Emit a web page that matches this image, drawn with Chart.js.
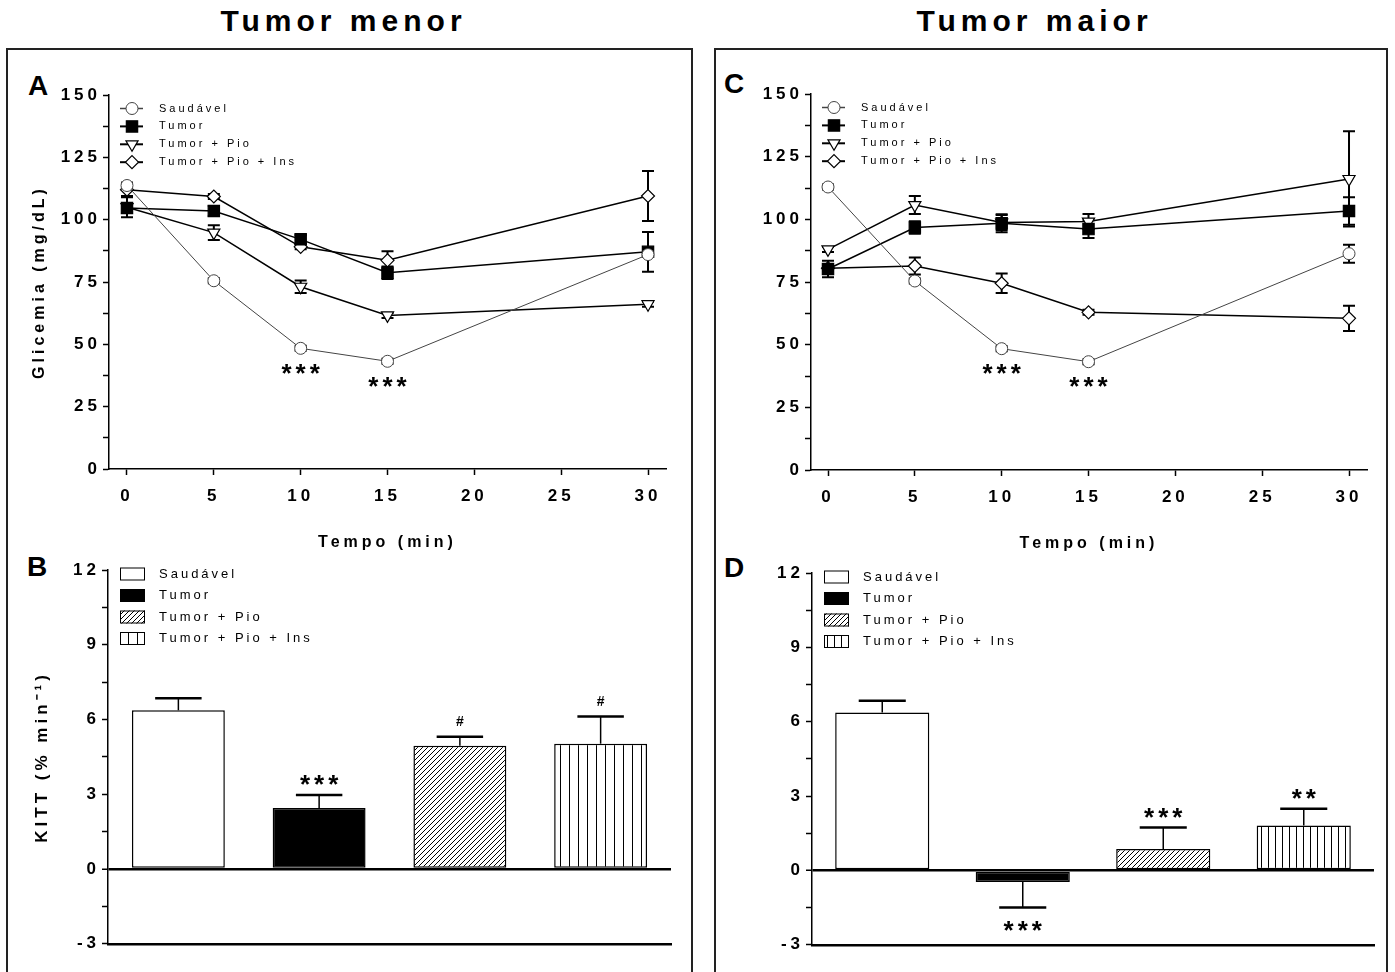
<!DOCTYPE html>
<html>
<head>
<meta charset="utf-8">
<script src="https://cdn.jsdelivr.net/npm/chart.js@4/dist/chart.umd.min.js"></script>
<style>
  body { margin: 0; background: #fff; overflow: hidden; }
  #fig { position: relative; width: 1395px; height: 972px; overflow: hidden; background: #fff;
         font-family: 'Liberation Sans', Arial, Helvetica, sans-serif; color: #000; }
  .painel { position: absolute; top: 48px; height: 1000px; border: 2px solid #222; box-sizing: border-box; }
  .titulo { position: absolute; top: 6px; width: 687px; text-align: center; font-weight: bold;
            font-size: 30px; line-height: 30px; letter-spacing: 5px; }
  .letra { position: absolute; font-weight: bold; font-size: 28px; line-height: 28px; }
  canvas { position: absolute; }
</style>
</head>
<body>
<div id="fig">
  <div class="painel" style="left:6px; width:687px;"></div>
  <div class="painel" style="left:714px; width:674px;"></div>
  <div class="titulo" style="left:0px;">Tumor menor</div>
  <div class="titulo" style="left:691px;">Tumor maior</div>
  <div class="letra" style="left:28px; top:72px;">A</div>
  <div class="letra" style="left:27px; top:553px;">B</div>
  <div class="letra" style="left:724px; top:70px;">C</div>
  <div class="letra" style="left:724px; top:554px;">D</div>
  <canvas id="gA" width="660" height="496" style="left:20px; top:60px;"></canvas>
  <canvas id="gB" width="661" height="406" style="left:20px; top:550px;"></canvas>
  <canvas id="gC" width="659" height="497" style="left:722px; top:60px;"></canvas>
  <canvas id="gD" width="662" height="404" style="left:722px; top:553px;"></canvas>
</div>
<script>
// grupos e eixos
var grupos = ["Saudável", "Tumor", "Tumor + Pio", "Tumor + Pio + Ins"];
var tempo = [0, 5, 10, 15, 30];
var tempoTicks = [0, 5, 10, 15, 20, 25, 30];
var glicTicks = [0, 12.5, 25, 37.5, 50, 62.5, 75, 87.5, 100, 112.5, 125, 137.5, 150];
var kittTicks = [-3, -1.5, 0, 1.5, 3, 4.5, 6, 7.5, 9, 10.5, 12];

// A - tumor menor, glicemia (mg/dL)
var saudA = [113.7, 75.5, 48.4, 43.2, 86.0];
var saudAErr = [1.2, 1, 1, 1, 1];
var tumorA = [104.7, 103.5, 92.1, 78.7, 87.1];
var tumorAErr = [2, 2, 1.8, 2.5, 8];
var pioA = [105.0, 94.8, 73.1, 61.6, 66.1];
var pioAErr = [4, 3, 2.5, 1, 1];
var insA = [112.0, 109.3, 89.1, 83.7, 109.5];
var insAErr = [2.5, 1, 1, 3.6, 10];
var marcasA = ["", "", "***", "***", ""];

// C - tumor maior, glicemia (mg/dL)
var saudC = [112.9, 75.4, 48.4, 43.2, 86.3];
var saudCErr = [1, 1, 1, 1, 3.6];
var tumorC = [80.2, 96.7, 98.4, 96.1, 103.3];
var tumorCErr = [3.3, 2.5, 3.6, 3.5, 5.5];
var pioC = [88.0, 105.7, 98.7, 99.1, 116.1];
var pioCErr = [1, 3.6, 3, 3, 19];
var insC = [80.5, 81.4, 74.5, 62.9, 60.5];
var insCErr = [1, 3.4, 3.9, 1, 5];
var marcasC = ["", "", "***", "***", ""];

// B e D - KITT (% min-1)
var kittB = [6.37, 2.45, 4.95, 5.03];
var kittBErr = [0.48, 0.52, 0.36, 1.09];
var marcasB = ["", "***", "#", "#"];
var kittD = [6.37, -0.47, 0.87, 1.81];
var kittDErr = [0.48, 1.03, 0.86, 0.68];
var marcasD = ["", "***", "***", "**"];

var fonte = "'Liberation Sans', Arial, Helvetica, sans-serif";

function padraoDiagonal(passo) {
    var c = document.createElement('canvas');
    c.width = passo; c.height = passo;
    var g = c.getContext('2d');
    g.fillStyle = '#fff';
    g.fillRect(0, 0, passo, passo);
    g.strokeStyle = '#000';
    g.lineWidth = 1;
    g.beginPath();
    g.moveTo(-1, passo + 1); g.lineTo(passo + 1, -1);
    g.moveTo(-1, 1); g.lineTo(1, -1);
    g.moveTo(passo - 1, passo + 1); g.lineTo(passo + 1, passo - 1);
    g.stroke();
    return g.createPattern(c, 'repeat');
}

function padraoVertical(passo) {
    var c = document.createElement('canvas');
    c.width = passo; c.height = 4;
    var g = c.getContext('2d');
    g.fillStyle = '#fff';
    g.fillRect(0, 0, passo, 4);
    g.fillStyle = '#000';
    g.fillRect(0, 0, 1, 4);
    return g.createPattern(c, 'repeat');
}

// texto com espaçamento, centrado pela "tinta" do glifo
function textoMarca(ctx, txt, x, yc) {
    ctx.save();
    ctx.fillStyle = '#000';
    ctx.textAlign = 'center';
    ctx.textBaseline = 'alphabetic';
    if (txt.indexOf('#') >= 0) {
        ctx.font = 'bold 14px ' + fonte;
        ctx.letterSpacing = '0px';
        ctx.fillText(txt, x, yc + 5);
    } else {
        ctx.font = 'bold 26px ' + fonte;
        ctx.letterSpacing = '4px';
        ctx.fillText(txt, x + 2, yc + 14.4);
    }
    ctx.restore();
}

var desenhos = {
    id: 'desenhos',
    beforeDraw: function (chart) {
        chart.ctx.letterSpacing = '4px';
    },
    beforeDatasetsDraw: function (chart, args, opts) {
        var ctx = chart.ctx;
        ctx.save();
        ctx.strokeStyle = '#000';
        chart.data.datasets.forEach(function (ds, i) {
            var meta = chart.getDatasetMeta(i);
            var ys = chart.scales[meta.yAxisID];
            meta.data.forEach(function (el, j) {
                var e = ds.erros[j];
                if (opts.tipo === 'linha') {
                    var v = ds.data[j].y;
                    var y1 = ys.getPixelForValue(v + e), y2 = ys.getPixelForValue(v - e);
                    ctx.lineWidth = 2;
                    ctx.beginPath();
                    ctx.moveTo(el.x, y1); ctx.lineTo(el.x, y2);
                    ctx.moveTo(el.x - 6, y1); ctx.lineTo(el.x + 6, y1);
                    ctx.moveTo(el.x - 6, y2); ctx.lineTo(el.x + 6, y2);
                    ctx.stroke();
                }
            });
        });
        ctx.restore();
    },
    afterDraw: function (chart, args, opts) {
        var ctx = chart.ctx;
        var area = chart.chartArea;
        ctx.save();
        if (opts.tipo === 'linha') {
            chart.data.datasets.forEach(function (ds, i) {
                var y = area.top + 13.5 + i * 17.9;
                ctx.strokeStyle = ds.borderColor;
                ctx.lineWidth = ds.borderWidth + 0.5;
                ctx.beginPath();
                ctx.moveTo(area.left + 11, y); ctx.lineTo(area.left + 34, y);
                ctx.stroke();
                ctx.fillStyle = ds.pointBackgroundColor;
                ctx.strokeStyle = ds.pointBorderColor;
                ctx.lineWidth = ds.pointBorderWidth;
                Chart.helpers.drawPoint(ctx, {
                    pointStyle: ds.pointStyle, rotation: ds.pointRotation || 0,
                    radius: ds.pointRadius, borderWidth: ds.pointBorderWidth
                }, area.left + 23, y);
                ctx.fillStyle = '#000';
                ctx.font = '11px ' + fonte;
                ctx.letterSpacing = '3px';
                ctx.textAlign = 'left';
                ctx.textBaseline = 'middle';
                ctx.fillText(ds.label, area.left + 50, y);
            });
            // asteriscos sob a curva Saudável
            var meta0 = chart.getDatasetMeta(0);
            opts.marcas.forEach(function (m, j) {
                if (!m) return;
                var p = meta0.data[j];
                textoMarca(ctx, m, p.x, p.y + 19);
            });
        } else {
            var ds = chart.data.datasets[0];
            var meta = chart.getDatasetMeta(0);
            var ys = chart.scales.y;
            // barras de erro (um lado)
            meta.data.forEach(function (el, j) {
                var v = ds.data[j];
                var fim = v >= 0 ? v + ds.erros[j] : v - ds.erros[j];
                var yf = ys.getPixelForValue(fim);
                var meia = el.width / 4;
                ctx.strokeStyle = '#000';
                ctx.lineWidth = 1.5;
                ctx.beginPath();
                ctx.moveTo(el.x, el.y); ctx.lineTo(el.x, yf);
                ctx.stroke();
                ctx.lineWidth = 2.5;
                ctx.beginPath();
                ctx.moveTo(el.x - meia, yf); ctx.lineTo(el.x + meia, yf);
                ctx.stroke();
                var m = opts.marcas[j];
                if (m) textoMarca(ctx, m, el.x, v >= 0 ? yf - 16 : yf + 17);
            });
            // legenda
            chart.data.labels.forEach(function (lab, i) {
                var y = area.top + 4 + i * 21.5;
                ctx.fillStyle = ds.backgroundColor[i];
                ctx.fillRect(area.left + 12, y - 6.5, 25, 13);
                ctx.strokeStyle = '#000';
                ctx.lineWidth = 1;
                ctx.strokeRect(area.left + 12.5, y - 6, 24, 12);
                ctx.fillStyle = '#000';
                ctx.font = '13px ' + fonte;
                ctx.letterSpacing = '3px';
                ctx.textAlign = 'left';
                ctx.textBaseline = 'middle';
                ctx.fillText(lab, area.left + 51, y);
            });
        }
        ctx.restore();
    }
};

function serieXY(valores) {
    return valores.map(function (v, j) { return { x: tempo[j], y: v }; });
}

function graficoLinha(id, s, e, marcas, geo) {
    var estilos = [
        { pointStyle: 'circle', pointRadius: 6, cor: '#444', largura: 1, fundo: '#fff', rot: 0 },
        { pointStyle: 'rect', pointRadius: 8, cor: '#000', largura: 1.5, fundo: '#000', rot: 0 },
        { pointStyle: 'triangle', pointRadius: 7, cor: '#000', largura: 1.5, fundo: '#fff', rot: 180 },
        { pointStyle: 'rectRot', pointRadius: 6.5, cor: '#000', largura: 1.5, fundo: '#fff', rot: 0 }
    ];
    var datasets = s.map(function (valores, i) {
        var st = estilos[i];
        return {
            label: grupos[i],
            data: serieXY(valores),
            erros: e[i],
            borderColor: st.cor,
            borderWidth: st.largura,
            pointStyle: st.pointStyle,
            pointRadius: st.pointRadius,
            pointRotation: st.rot,
            pointBackgroundColor: st.fundo,
            pointBorderColor: st.cor,
            pointBorderWidth: i === 0 ? 1 : 1.2,
            tension: 0
        };
    });
    return new Chart(document.getElementById(id).getContext('2d'), {
        type: 'line',
        data: { datasets: datasets },
        plugins: [desenhos],
        options: {
            responsive: false,
            animation: false,
            devicePixelRatio: 1,
            events: [],
            layout: { autoPadding: false, padding: { top: geo.top, right: geo.right, left: 0, bottom: 0 } },
            plugins: {
                legend: { display: false },
                tooltip: { enabled: false },
                desenhos: { tipo: 'linha', marcas: marcas }
            },
            scales: {
                x: {
                    type: 'linear',
                    min: geo.xmin,
                    max: geo.xmax,
                    afterBuildTicks: function (sc) { sc.ticks = tempoTicks.map(function (v) { return { value: v }; }); },
                    afterFit: function (sc) { sc.height = 87; },
                    grid: { drawOnChartArea: false, drawTicks: true, tickLength: 6, tickWidth: 1.5, tickColor: '#000' },
                    border: { display: true, color: '#000', width: 1.5 },
                    ticks: { color: '#000', autoSkip: false, maxRotation: 0, padding: 11,
                             font: { family: fonte, size: 17, weight: 'bold' } },
                    title: { display: true, text: 'Tempo (min)', color: '#000', padding: { top: 0, bottom: 4 },
                             font: { family: fonte, size: 16, weight: 'bold' } }
                },
                y: {
                    min: 0,
                    max: 150,
                    afterBuildTicks: function (sc) { sc.ticks = glicTicks.map(function (v) { return { value: v }; }); },
                    afterFit: function (sc) { sc.width = 89; },
                    grid: { drawOnChartArea: false, drawTicks: true, tickLength: 6, tickWidth: 1.5, tickColor: '#000' },
                    border: { display: true, color: '#000', width: 1.5 },
                    ticks: { color: '#000', padding: 2,
                             callback: function (v) { return v % 25 === 0 ? String(v) : ''; },
                             font: { family: fonte, size: 17, weight: 'bold' } },
                    title: { display: geo.titulo, text: 'Glicemia (mg/dL)', color: '#000', padding: { top: 10, bottom: 0 },
                             font: { family: fonte, size: 16, weight: 'bold' } }
                }
            }
        }
    });
}

function graficoBarra(id, valores, erros, marcas, geo) {
    return new Chart(document.getElementById(id).getContext('2d'), {
        type: 'bar',
        data: {
            labels: grupos,
            datasets: [{
                data: valores,
                erros: erros,
                backgroundColor: ['#fff', '#000', padraoDiagonal(5), padraoVertical(geo.listra)],
                borderColor: '#000',
                borderWidth: 1.5,
                borderSkipped: false,
                barPercentage: geo.barra,
                categoryPercentage: 1
            }]
        },
        plugins: [desenhos],
        options: {
            responsive: false,
            animation: false,
            devicePixelRatio: 1,
            events: [],
            layout: { autoPadding: false, padding: { top: 20, right: 10, left: 0, bottom: 0 } },
            plugins: {
                legend: { display: false },
                tooltip: { enabled: false },
                desenhos: { tipo: 'barra', marcas: marcas }
            },
            scales: {
                x: {
                    afterFit: function (sc) { sc.height = 10; },
                    grid: { display: false, drawTicks: false },
                    border: { display: true, color: '#000', width: 2.5 },
                    ticks: { display: false }
                },
                y: {
                    min: -3,
                    max: 12,
                    afterBuildTicks: function (sc) { sc.ticks = kittTicks.map(function (v) { return { value: v }; }); },
                    afterFit: function (sc) { sc.width = geo.largY; },
                    grid: {
                        drawOnChartArea: true, drawTicks: true, tickLength: 6, tickWidth: 1.5, tickColor: '#000',
                        color: function (c) { return c.tick && c.tick.value === 0 ? '#000' : 'rgba(0,0,0,0)'; },
                        lineWidth: function (c) { return c.tick && c.tick.value === 0 ? 2.5 : 1; }
                    },
                    border: { display: true, color: '#000', width: 1.5 },
                    ticks: { color: '#000', padding: 2,
                             callback: function (v) { return v % 3 === 0 ? String(v) : ''; },
                             font: { family: fonte, size: 17, weight: 'bold' } },
                    title: { display: geo.titulo, text: 'KITT (% min⁻¹)', color: '#000', padding: { top: 12, bottom: 0 },
                             font: { family: fonte, size: 17, weight: 'bold' } }
                }
            }
        }
    });
}

var chartA = graficoLinha('gA', [saudA, tumorA, pioA, insA], [saudAErr, tumorAErr, pioAErr, insAErr], marcasA,
    { top: 35, right: 14, xmin: -1.036, xmax: 31.036, titulo: true });
var chartC = graficoLinha('gC', [saudC, tumorC, pioC, insC], [saudCErr, tumorCErr, pioCErr, insCErr], marcasC,
    { top: 34, right: 14, xmin: -0.979, xmax: 31.036, titulo: false });
var chartB = graficoBarra('gB', kittB, kittBErr, marcasB, { largY: 88, barra: 0.66, listra: 9, titulo: true });
var chartD = graficoBarra('gD', kittD, kittDErr, marcasD, { largY: 90, barra: 0.67, listra: 7, titulo: false });
</script>
</body>
</html>
